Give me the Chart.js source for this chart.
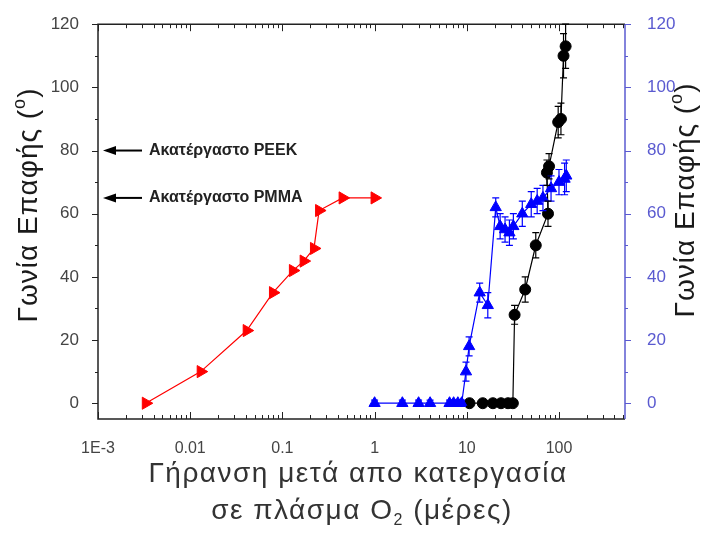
<!DOCTYPE html>
<html>
<head>
<meta charset="utf-8">
<script src="https://cdn.jsdelivr.net/npm/chart.js@4.4.0/dist/chart.umd.min.js"></script>
<style>
  html, body { margin: 0; padding: 0; background: #fff; }
</style>
</head>
<body>
<canvas id="chart" width="710" height="541"></canvas>
<script>
// ageing time (days) vs contact angle (deg)
const redX = [0.0033, 0.013, 0.041, 0.079, 0.13, 0.17, 0.22, 0.25, 0.45, 1];
const redY = [0, 10, 23, 35, 42, 45, 49, 61, 65, 65];

const blueX = [1, 2, 3, 4, 6.5, 7.2, 8, 8.8, 9.8, 10.6, 13.8, 16.9, 20.6, 23, 26, 29, 32, 40, 50, 58, 67, 82, 100, 115, 120];
const blueY = [0, 0, 0, 0, 0, 0, 0, 0, 10, 18, 35, 31, 62, 56, 55, 54, 56, 60, 63, 64, 65, 68, 70, 71, 72];
const blueErr = [1, 1, 1, 1, 1, 1, 1, 1, 3, 3, 3, 4, 3, 4, 4, 4, 4, 4, 4, 4, 4, 4, 4, 5, 5];

const blackX = [10.7, 14.9, 19.2, 23.5, 28, 31.6, 33, 43, 56, 76, 74, 78, 98, 105, 112, 118];
const blackY = [0, 0, 0, 0, 0, 0, 28, 36, 50, 60, 73, 75, 89, 90, 110, 113];
const blackErr = [1, 1, 1, 1, 1, 1, 3, 4, 4, 4, 4, 4, 5, 5, 7, 7];

const xTickValues = [0.001, 0.01, 0.1, 1, 10, 100];
const xTickLabels = ['1E-3', '0.01', '0.1', '1', '10', '100'];
const yTickValues = [0, 20, 40, 60, 80, 100, 120];

const FONT = "'Liberation Sans', Arial, sans-serif";
const AXIS_BLUE = '#5a5ad0';

const toPoints = (xs, ys) => xs.map((x, i) => ({ x: x, y: ys[i] }));

// frame + inward/outward tick marks
const framePlugin = {
    id: 'frame',
    beforeDatasetsDraw(chart) {
        const { ctx, chartArea: a, scales } = chart;
        ctx.save();
        ctx.lineWidth = 1.5;
        ctx.strokeStyle = '#222';
        ctx.beginPath();
        ctx.moveTo(a.right, a.top);
        ctx.lineTo(a.left, a.top);
        ctx.lineTo(a.left, a.bottom);
        ctx.lineTo(a.right, a.bottom);
        ctx.stroke();

        // x ticks, pointing inside, bottom and top
        ctx.lineWidth = 1;
        ctx.beginPath();
        for (let e = -3; e <= 2; e++) {
            for (let m = 1; m <= 9; m++) {
                const v = m * Math.pow(10, e);
                if (v > scales.x.max) continue;
                const px = Math.round(scales.x.getPixelForValue(v)) + 0.5;
                const len = m === 1 ? 7 : 4;
                ctx.moveTo(px, a.bottom);
                ctx.lineTo(px, a.bottom - len);
                ctx.moveTo(px, a.top);
                ctx.lineTo(px, a.top + len);
            }
        }
        ctx.stroke();

        // left y ticks, outside
        ctx.beginPath();
        for (let v = 0; v <= 120; v += 10) {
            const py = Math.round(scales.y.getPixelForValue(v)) + 0.5;
            const len = v % 20 === 0 ? 6 : 3;
            ctx.moveTo(a.left, py);
            ctx.lineTo(a.left - len, py);
        }
        ctx.stroke();

        // right axis in blue
        ctx.strokeStyle = AXIS_BLUE;
        ctx.lineWidth = 1.5;
        ctx.beginPath();
        ctx.moveTo(a.right, a.top);
        ctx.lineTo(a.right, a.bottom);
        ctx.stroke();
        ctx.lineWidth = 1;
        ctx.beginPath();
        for (let v = 0; v <= 120; v += 10) {
            const py = Math.round(scales.y2.getPixelForValue(v)) + 0.5;
            const len = v % 20 === 0 ? 6 : 3;
            ctx.moveTo(a.right, py);
            ctx.lineTo(a.right + len, py);
        }
        ctx.stroke();
        ctx.restore();
    }
};

// vertical error bars for datasets that carry an errors array
const errorBarPlugin = {
    id: 'errorBars',
    afterDatasetsDraw(chart) {
        const { ctx } = chart;
        ctx.save();
        chart.data.datasets.forEach((ds, di) => {
            if (!ds.errors) return;
            const meta = chart.getDatasetMeta(di);
            const scale = chart.scales[ds.yAxisID];
            ctx.strokeStyle = ds.borderColor;
            ctx.lineWidth = 1.2;
            meta.data.forEach((pt, i) => {
                const val = ds.data[i].y;
                const err = ds.errors[i];
                const top = scale.getPixelForValue(val + err);
                const bot = scale.getPixelForValue(val - err);
                ctx.beginPath();
                ctx.moveTo(pt.x, top);
                ctx.lineTo(pt.x, bot);
                ctx.moveTo(pt.x - 3.5, top);
                ctx.lineTo(pt.x + 3.5, top);
                ctx.moveTo(pt.x - 3.5, bot);
                ctx.lineTo(pt.x + 3.5, bot);
                ctx.stroke();
            });
        });
        ctx.restore();
    }
};

// draws a row of text runs (for super/subscripts) centred on 0,0
function drawRuns(ctx, runs, spacing) {
    ctx.letterSpacing = (spacing || 0) + 'px';
    let total = 0;
    runs.forEach(r => {
        ctx.font = r.size + 'px ' + FONT;
        r.w = ctx.measureText(r.t).width;
        total += r.w;
    });
    let x = -total / 2;
    ctx.textBaseline = 'middle';
    ctx.textAlign = 'left';
    runs.forEach(r => {
        ctx.font = r.size + 'px ' + FONT;
        ctx.fillText(r.t, x, r.dy || 0);
        x += r.w;
    });
    ctx.letterSpacing = '0px';
}

const labelsPlugin = {
    id: 'labels',
    afterDraw(chart) {
        const { ctx, chartArea: a, scales } = chart;
        ctx.save();
        ctx.fillStyle = '#1a1a1a';

        const yTitle = [
            { t: 'Γωνία Επαφής (', size: 28 },
            { t: 'o', size: 18, dy: -9 },
            { t: ')', size: 28 }
        ];
        ctx.save();
        ctx.translate(29, 205);
        ctx.rotate(-Math.PI / 2);
        drawRuns(ctx, yTitle, 1);
        ctx.restore();

        ctx.save();
        ctx.translate(686, 200);
        ctx.rotate(-Math.PI / 2);
        drawRuns(ctx, yTitle, 1);
        ctx.restore();

        ctx.save();
        ctx.fillStyle = '#333';
        ctx.translate(358, 474);
        drawRuns(ctx, [{ t: 'Γήρανση μετά απο κατεργασία', size: 28 }], 1.5);
        ctx.restore();
        ctx.save();
        ctx.fillStyle = '#333';
        ctx.translate(362, 511);
        drawRuns(ctx, [
            { t: 'σε πλάσμα O', size: 28 },
            { t: '2', size: 16, dy: 10 },
            { t: ' (μέρες)', size: 28 }
        ], 1.5);
        ctx.restore();

        // reference levels of the untreated materials
        const marks = [[80, 'Ακατέργαστο PEEK'], [65, 'Ακατέργαστο PMMA']];
        marks.forEach(([v, txt]) => {
            const py = scales.y.getPixelForValue(v);
            const tip = a.left + 5;
            ctx.strokeStyle = '#000';
            ctx.fillStyle = '#000';
            ctx.lineWidth = 2;
            ctx.beginPath();
            ctx.moveTo(tip + 10, py);
            ctx.lineTo(a.left + 44, py);
            ctx.stroke();
            ctx.beginPath();
            ctx.moveTo(tip, py);
            ctx.lineTo(tip + 13, py - 4.5);
            ctx.lineTo(tip + 13, py + 4.5);
            ctx.closePath();
            ctx.fill();
            ctx.font = 'bold 16px ' + FONT;
            ctx.textBaseline = 'middle';
            ctx.textAlign = 'left';
            ctx.fillStyle = '#222';
            ctx.fillText(txt, a.left + 51, py);
        });
        ctx.restore();
    }
};

const ctx = document.getElementById('chart').getContext('2d');
new Chart(ctx, {
    type: 'scatter',
    data: {
        datasets: [
            {
                label: 'PMMA',
                data: toPoints(redX, redY),
                showLine: true,
                borderColor: '#ff0000',
                backgroundColor: '#ff0000',
                borderWidth: 1.2,
                pointStyle: 'triangle',
                rotation: 90,
                pointRadius: 7,
                pointBorderWidth: 1,
                yAxisID: 'y'
            },
            {
                label: 'blue',
                data: toPoints(blueX, blueY),
                errors: blueErr,
                showLine: true,
                borderColor: '#0000ff',
                backgroundColor: '#0000ff',
                borderWidth: 1.2,
                pointStyle: 'triangle',
                pointRadius: 6.5,
                pointBorderWidth: 1,
                yAxisID: 'y2'
            },
            {
                label: 'black',
                data: toPoints(blackX, blackY),
                errors: blackErr,
                showLine: true,
                borderColor: '#000000',
                backgroundColor: '#000000',
                borderWidth: 1.2,
                pointStyle: 'circle',
                pointRadius: 5.5,
                pointBorderWidth: 1,
                yAxisID: 'y'
            }
        ]
    },
    options: {
        responsive: false,
        animation: false,
        layout: { padding: { top: 22, left: 0, right: 0, bottom: 0 } },
        plugins: {
            legend: { display: false },
            tooltip: { enabled: false }
        },
        scales: {
            x: {
                type: 'logarithmic',
                min: 0.001,
                max: 520,
                grid: { display: false },
                border: { display: false },
                afterBuildTicks: s => { s.ticks = xTickValues.map(v => ({ value: v, major: true })); },
                afterFit: s => { s.height = 122; },
                ticks: {
                    autoSkip: false,
                    maxRotation: 0,
                    padding: 12,
                    color: '#444',
                    font: { family: FONT, size: 16 },
                    callback: (v, i) => xTickLabels[i]
                }
            },
            y: {
                position: 'left',
                min: -5,
                max: 120,
                grid: { display: false },
                border: { display: false },
                afterBuildTicks: s => { s.ticks = yTickValues.map(v => ({ value: v })); },
                afterFit: s => { s.width = 98; },
                ticks: {
                    padding: 11,
                    color: '#444',
                    font: { family: FONT, size: 17 }
                }
            },
            y2: {
                position: 'right',
                min: -5,
                max: 120,
                grid: { display: false },
                border: { display: false },
                afterBuildTicks: s => { s.ticks = yTickValues.map(v => ({ value: v })); },
                afterFit: s => { s.width = 85; },
                ticks: {
                    padding: 14,
                    color: AXIS_BLUE,
                    font: { family: FONT, size: 17 }
                }
            }
        }
    },
    plugins: [framePlugin, errorBarPlugin, labelsPlugin]
});
</script>
</body>
</html>
